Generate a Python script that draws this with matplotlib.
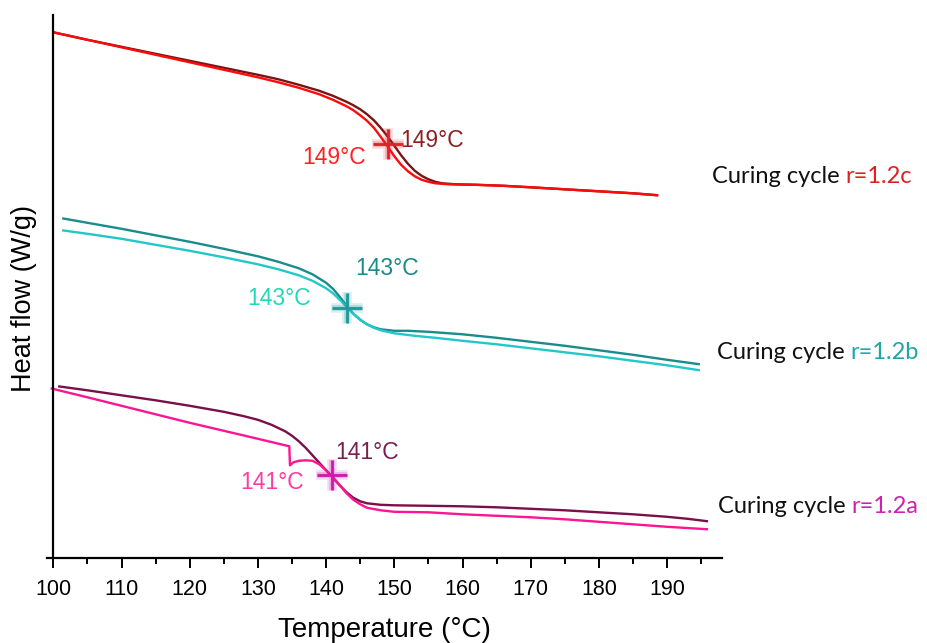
import matplotlib
matplotlib.use("Agg")
import matplotlib.pyplot as plt
import numpy as np

# ---------------- data (heat flow in arbitrary units, shifted curves) ----------------
# cycle r=1.2c
c_light_T = [100, 105, 110, 115, 120, 125, 130, 133, 136, 139, 141, 143, 144, 145, 146, 147,
             148, 149, 150, 151, 152, 153, 154, 155, 156, 158, 162, 166, 170, 175, 180, 185, 188.7]
c_light_HF = [526, 518.5, 511, 503.5, 496, 488.5, 481, 476, 470.5, 464, 458.5, 452, 448, 443,
              437.5, 430.5, 421.5, 412, 402, 393.5, 387, 382, 378.5, 376.5, 375, 374,
              373.5, 372.5, 371, 369, 367, 365, 363]
c_dark_T = [100, 105, 110, 115, 120, 125, 130, 133, 136, 139, 141, 143, 144, 145, 146, 147,
            148, 149, 150, 151, 152, 153, 154, 155, 156, 157, 159, 162, 166, 170, 175, 180, 185, 188.7]
c_dark_HF = [526, 518.5, 511.5, 504.5, 497.5, 490.5, 483.5, 479, 473.5, 467.5, 462.5, 456.5,
             453, 449, 444, 438, 430.5, 422, 412.5, 403, 394.5, 387.5, 382.5, 379, 376.5, 375,
             374, 373.5, 372.5, 371, 369, 367, 365, 363]

# cycle r=1.2b
b_dark_T = [101.3, 105, 110, 115, 120, 125, 130, 133, 136, 138, 140, 141, 142, 143, 144, 145,
            146, 147, 148, 150, 152, 155, 160, 165, 170, 175, 180, 185, 190, 194.8]
b_dark_HF = [340, 335.5, 329.5, 323, 316.5, 309.5, 302, 296.5, 290, 284, 275.5, 269.5, 261.5,
             252.5, 244.5, 238.5, 234, 231, 229, 227.5, 227.5, 226.5, 224, 220.5, 216.5, 212.5,
             208, 203.5, 198.5, 194]
b_light_T = [101.3, 105, 110, 115, 120, 125, 130, 133, 136, 138, 140, 141, 142, 143, 144, 145,
             146, 147, 148, 150, 153, 156, 160, 165, 170, 175, 180, 185, 190, 194.8]
b_light_HF = [328, 324.5, 319.5, 313.5, 307.5, 301, 294, 289, 283, 277.5, 270, 265, 258.5,
              251.5, 244.5, 238.5, 234, 230.5, 228, 225, 222.5, 220.5, 217.5, 214, 210, 206,
              202, 197.5, 193, 188]

# cycle r=1.2a
a_dark_T = [100.7, 105, 110, 115, 120, 125, 128, 130, 132, 134, 135, 136, 137, 138, 139, 140,
            141, 142, 143, 144, 145, 146, 148, 150, 155, 160, 165, 170, 175, 180, 185, 190, 193, 196]
a_dark_HF = [172, 168, 163, 158, 152.5, 146.5, 142, 138.5, 133.5, 127, 122.5, 117, 110.5, 103,
             95.5, 88, 80.5, 73, 66, 60.5, 57, 55, 53.5, 53, 52.5, 52, 51, 49.5, 48, 46, 44,
             41.5, 39.5, 37]
a_light_T = [99.6, 105, 110, 115, 120, 125, 130, 134.6, 134.7, 135.2, 136, 137, 138, 139, 140,
             141, 142, 143, 144, 145, 146, 148, 150, 155, 160, 165, 170, 175, 180, 185, 190, 196]
a_light_HF = [170, 161, 152.5, 144, 135.5, 127.5, 119.5, 112, 93, 96, 97.5, 98, 97.5, 94, 88,
              81, 73, 65, 58.5, 54, 50.5, 48, 46.5, 46, 44, 42.5, 41, 39, 36.5, 34, 31.5, 29]

# transition points (T, heat flow)
tg_T = [149.1, 143.0, 140.9]
tg_HF = [414, 250, 83]
tick_T = list(range(100, 200, 10))

# ---------------- figure ----------------
plt.rcParams['font.family'] = ['Liberation Sans', 'DejaVu Sans']
fig = plt.figure(figsize=(9.27, 6.43), dpi=100)
ax = fig.add_axes([46.5 / 927, 1 - 558.3 / 643, 675.2 / 927, 543.3 / 643])

lw = 1.7
ax.plot(c_dark_T, c_dark_HF, color='#7a1414', lw=lw, solid_capstyle='butt')
ax.plot(c_light_T, c_light_HF, color='#ff0a0a', lw=lw, solid_capstyle='butt')
ax.plot(b_dark_T, b_dark_HF, color='#1a8c8c', lw=lw, solid_capstyle='butt')
ax.plot(b_light_T, b_light_HF, color='#22c8c8', lw=lw, solid_capstyle='butt')
ax.plot(a_dark_T, a_dark_HF, color='#7a1048', lw=lw, solid_capstyle='butt')
ax.plot(a_light_T, a_light_HF, color='#ff1493', lw=lw, solid_capstyle='butt')

marker_cols = ['#e0202a', '#1a9a9a', '#c81cae']
for T, H, col in zip(tg_T, tg_HF, marker_cols):
    ax.plot([T], [H], marker='+', ms=23, mew=7, color=col, alpha=0.15, zorder=4)
    ax.plot([T], [H], marker='+', ms=22, mew=4, color=col, alpha=0.25, zorder=4)
    ax.plot([T], [H], marker='+', ms=21, mew=2.0, color=col, zorder=5)

fs_lab = 16.5
ax.text(150.8, 418, '149°C', color='#8b2020', fontsize=fs_lab, ha='left', va='center')
ax.text(136.5, 401, '149°C', color='#ff2020', fontsize=fs_lab, ha='left', va='center')
ax.text(144.2, 290, '143°C', color='#1a8a8a', fontsize=fs_lab, ha='left', va='center')
ax.text(128.5, 260, '143°C', color='#22d8b8', fontsize=fs_lab, ha='left', va='center')
ax.text(141.3, 106, '141°C', color='#7a2050', fontsize=fs_lab, ha='left', va='center')
ax.text(127.4, 76, '141°C', color='#ff3aa0', fontsize=fs_lab, ha='left', va='center')

fs_cyc = 17
cyc = [(196.6, 375, 'r=1.2c', '#e02020'),
       (197.3, 199, 'r=1.2b', '#1fa5a5'),
       (197.4, 45, 'r=1.2a', '#d020b0')]
for x, y, lab, col in cyc:
    t = ax.text(x, y, 'Curing cycle ', fontsize=fs_cyc, family=['Lato', 'DejaVu Sans'],
                color='#111111', ha='left', va='baseline', clip_on=False)
    ax.annotate(lab, xy=(1, 0), xycoords=t, fontsize=fs_cyc, family=['Lato', 'DejaVu Sans'],
                color=col, ha='left', va='bottom', annotation_clip=False)

ax.set_xlim(99, 198)
ax.set_ylim(0, 543.3)
ax.spines['left'].set_position(('data', 100))
for s in ['top', 'right']:
    ax.spines[s].set_visible(False)
for s in ['left', 'bottom']:
    ax.spines[s].set_linewidth(1.6)
ax.set_yticks([])
ax.set_xticks(tick_T)
ax.set_xticks([t + 5 for t in tick_T], minor=True)
ax.tick_params(axis='x', which='major', length=7.5, width=1.4, direction='out',
               labelsize=15.5, pad=7.5)
ax.tick_params(axis='x', which='minor', length=4, width=1.4, direction='out')
ax.set_xlabel('Temperature (°C)', fontsize=20, labelpad=12)
ax.set_ylabel('Heat flow (W/g)', fontsize=19.5)
ax.yaxis.set_label_coords((24 - 46.5) / 675.2, (558.3 - 299) / 543.3)
ax.yaxis.label.set_verticalalignment('center')

fig.savefig('out.png', dpi=100)
